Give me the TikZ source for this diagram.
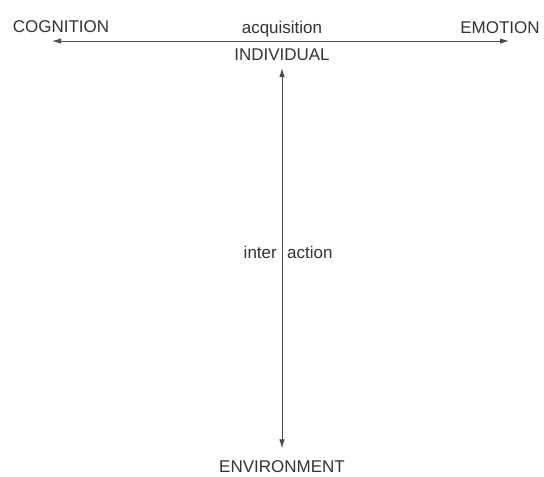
\documentclass[tikz,border=0pt]{standalone}
\usepackage{fontspec}
\setmainfont{Liberation Sans}
\usepackage{tikz}
\usetikzlibrary{arrows.meta}
\tikzset{word/.style={font=\fontsize{17}{20}\selectfont, text=black!80, inner sep=0pt, anchor=base}}
\tikzset{axis/.style={draw=black!70, line width=0.9pt, >={Latex[length=9pt,width=5.5pt]}, <->}}

\begin{document}
\begin{tikzpicture}[x=1pt,y=-1pt]
  \useasboundingbox (0,0) rectangle (544,477);
  \foreach \x/\y/\name/\lab in {
    61/32/COGNITION/cognition,
    282/33/acquisition/acquisition,
    500/33/EMOTION/emotion,
    282/60/INDIVIDUAL/individual,
    282/472/ENVIRONMENT/environment%
  } {
    \node[word] (\lab) at (\x, \y) {\name};
  }
  \node[word, anchor=base east] (inter) at (277,258) {inter};
  \node[word, anchor=base west] (action) at (287,258) {action};
  % the two axes
  \coordinate (left end) at (52,41);
  \coordinate (right end) at (509,41);
  \draw[axis] (left end) -- (right end);
  \draw[axis, shorten <=8pt, shorten >=11.5pt] (individual.base) -- (environment.north);
\end{tikzpicture}
\end{document}
